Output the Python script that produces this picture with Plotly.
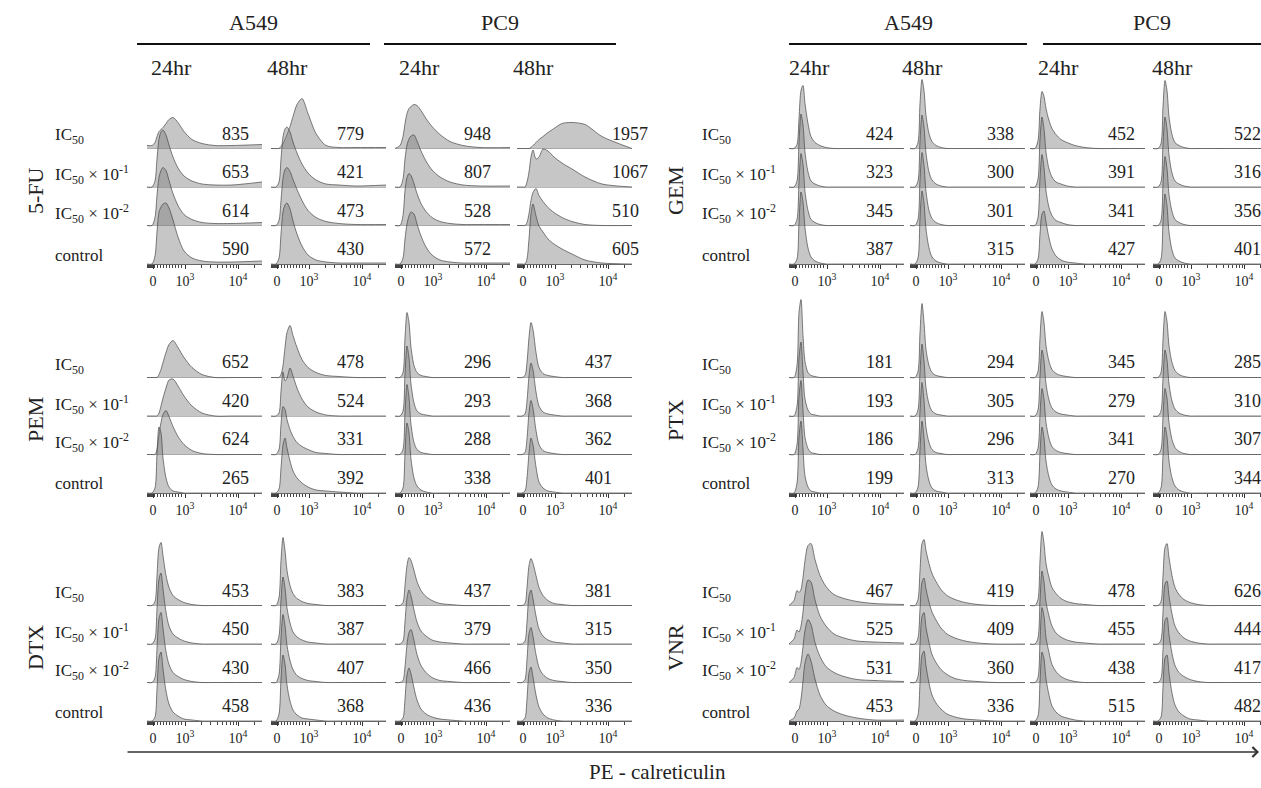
import plotly.graph_objects as go

W, H = 1261, 788

# ---------------- data ----------------
channels = [0, 5, 8, 10, 12, 14, 16, 19, 22, 26, 31, 37, 45, 55, 68, 85, 115]
tick_vals = [6, 38, 91]
tick_text = ["0", "10<sup>3</sup>", "10<sup>4</sup>"]
minor_tick_vals = [0, 1, 2, 3, 4, 5, 7, 10, 13, 16, 19, 22, 25, 28, 31, 34,
                   54, 63, 70, 75, 79, 83, 86, 89, 107]

doses = ["IC<sub>50</sub>", "IC<sub>50</sub> × 10<sup>-1</sup>",
         "IC<sub>50</sub> × 10<sup>-2</sup>", "control"]
cell_lines = ["A549", "PC9"]
times = ["24hr", "48hr"]
drugs_left = ["5-FU", "PEM", "DTX"]
drugs_right = ["GEM", "PTX", "VNR"]
x_title = "PE - calreticulin"

# MFI values: [A549 24hr, A549 48hr, PC9 24hr, PC9 48hr], rows IC50 .. control
mfi_5fu = [[835, 653, 614, 590], [779, 421, 473, 430], [948, 807, 528, 572], [1957, 1067, 510, 605]]
mfi_pem = [[652, 420, 624, 265], [478, 524, 331, 392], [296, 293, 288, 338], [437, 368, 362, 401]]
mfi_dtx = [[453, 450, 430, 458], [383, 387, 407, 368], [437, 379, 466, 436], [381, 315, 350, 336]]
mfi_gem = [[424, 323, 345, 387], [338, 300, 301, 315], [452, 391, 341, 427], [522, 316, 356, 401]]
mfi_ptx = [[181, 193, 186, 199], [294, 305, 296, 313], [345, 279, 341, 270], [285, 310, 307, 344]]
mfi_vnr = [[467, 525, 531, 453], [419, 409, 360, 336], [478, 455, 438, 515], [626, 444, 417, 482]]

# histogram counts at the channel positions
counts_5fu = [
    [[3, 3, 6, 12, 17, 19, 21, 25, 29, 31, 26, 17, 9, 5, 3, 3, 4],
     [0, 0, 6, 28, 48, 55, 57, 52, 42, 30, 19, 11, 6, 3, 2, 2, 5],
     [0, 0, 8, 30, 48, 55, 58, 55, 45, 32, 20, 11, 6, 3, 2, 2, 3],
     [0, 0, 8, 32, 52, 57, 60, 61, 56, 44, 27, 13, 6, 3, 2, 2, 3]],
    [[0, 0, 0, 2, 5, 9, 14, 22, 32, 44, 50, 35, 15, 3, 1, 1, 1],
     [0, 0, 5, 28, 50, 58, 60, 55, 45, 34, 23, 14, 7, 3, 2, 1, 2],
     [0, 0, 5, 25, 47, 56, 58, 54, 46, 36, 25, 15, 8, 4, 2, 1, 1],
     [0, 0, 6, 30, 52, 59, 61, 55, 43, 30, 18, 9, 4, 2, 1, 1, 1]],
    [[0, 3, 12, 25, 35, 40, 42, 44, 43, 38, 30, 22, 14, 7, 3, 1, 1],
     [0, 0, 8, 28, 42, 48, 51, 52, 46, 36, 26, 17, 10, 5, 2, 1, 1],
     [0, 0, 10, 35, 48, 52, 50, 42, 32, 22, 14, 8, 4, 2, 1, 1, 1],
     [0, 0, 6, 25, 40, 48, 52, 50, 40, 28, 17, 9, 4, 2, 1, 1, 1]],
    [[0, 0, 0, 0, 0, 1, 3, 6, 9, 12, 16, 20, 25, 26, 24, 12, 0],
     [0, 0, 0, 5, 15, 30, 37, 28, 30, 38, 36, 30, 24, 18, 10, 3, 0],
     [0, 0, 0, 3, 12, 25, 33, 37, 30, 24, 18, 13, 8, 4, 1, 0, 0],
     [0, 0, 0, 5, 25, 50, 60, 48, 38, 32, 25, 20, 15, 10, 4, 1, 0]],
]
counts_pem = [
    [[0, 0, 0, 0, 3, 8, 15, 25, 33, 37, 30, 20, 10, 3, 0, 0, 0],
     [0, 0, 0, 0, 3, 10, 18, 28, 36, 37, 30, 20, 10, 3, 0, 0, 0],
     [0, 0, 0, 5, 20, 32, 40, 44, 38, 28, 18, 10, 4, 1, 0, 0, 0],
     [0, 0, 5, 40, 66, 60, 35, 15, 6, 2, 1, 0, 0, 0, 0, 0, 0]],
    [[0, 0, 0, 3, 12, 30, 45, 52, 42, 30, 18, 10, 5, 2, 1, 0, 0],
     [0, 0, 3, 25, 44, 35, 38, 48, 40, 28, 17, 9, 4, 1, 0, 0, 0],
     [0, 0, 5, 30, 48, 45, 35, 25, 18, 12, 8, 5, 2, 1, 0, 0, 0],
     [0, 0, 4, 25, 48, 55, 45, 32, 22, 15, 10, 6, 3, 2, 1, 0, 0]],
    [[0, 0, 5, 40, 65, 55, 30, 12, 5, 2, 1, 0, 0, 0, 0, 0, 0],
     [0, 0, 5, 42, 70, 58, 32, 13, 5, 2, 1, 0, 0, 0, 0, 0, 0],
     [0, 0, 5, 42, 70, 57, 30, 12, 5, 2, 1, 0, 0, 0, 0, 0, 0],
     [0, 0, 5, 40, 70, 60, 34, 15, 7, 3, 1, 0, 0, 0, 0, 0, 0]],
    [[0, 0, 2, 15, 40, 55, 48, 25, 10, 4, 2, 1, 0, 0, 0, 0, 0],
     [0, 0, 2, 15, 40, 53, 46, 24, 10, 4, 2, 1, 0, 0, 0, 0, 0],
     [0, 0, 2, 16, 42, 54, 46, 24, 10, 4, 2, 1, 0, 0, 0, 0, 0],
     [0, 0, 2, 15, 40, 55, 48, 26, 11, 5, 2, 1, 0, 0, 0, 0, 0]],
]
counts_dtx = [
    [[0, 0, 4, 30, 58, 63, 50, 30, 18, 10, 6, 3, 1, 0, 0, 0, 0],
     [0, 0, 5, 35, 65, 71, 55, 32, 18, 10, 6, 3, 1, 0, 0, 0, 0],
     [0, 0, 5, 34, 64, 70, 54, 31, 18, 10, 6, 3, 1, 0, 0, 0, 0],
     [0, 0, 4, 32, 63, 69, 52, 30, 17, 9, 5, 2, 1, 0, 0, 0, 0]],
    [[0, 0, 8, 45, 68, 55, 35, 20, 12, 7, 4, 2, 1, 0, 0, 0, 0],
     [0, 0, 8, 44, 67, 56, 36, 21, 12, 7, 4, 2, 1, 0, 0, 0, 0],
     [0, 0, 8, 45, 68, 57, 37, 22, 13, 7, 4, 2, 1, 0, 0, 0, 0],
     [0, 0, 7, 42, 66, 57, 36, 20, 11, 6, 3, 2, 1, 0, 0, 0, 0]],
    [[0, 0, 3, 20, 40, 48, 45, 35, 24, 15, 9, 5, 2, 1, 0, 0, 0],
     [0, 0, 3, 22, 46, 54, 48, 34, 22, 13, 8, 4, 2, 1, 0, 0, 0],
     [0, 0, 2, 16, 38, 50, 53, 42, 28, 17, 10, 5, 2, 1, 0, 0, 0],
     [0, 0, 3, 22, 46, 53, 47, 33, 21, 12, 7, 4, 2, 1, 0, 0, 0]],
    [[0, 0, 2, 18, 40, 47, 42, 30, 18, 10, 5, 2, 1, 0, 0, 0, 0],
     [0, 0, 3, 22, 48, 54, 45, 28, 15, 8, 4, 2, 1, 0, 0, 0, 0],
     [0, 0, 3, 23, 49, 55, 46, 28, 15, 8, 4, 2, 1, 0, 0, 0, 0],
     [0, 0, 3, 22, 48, 54, 44, 26, 14, 7, 3, 1, 0, 0, 0, 0, 0]],
]
counts_gem = [
    [[0, 0, 4, 30, 58, 63, 45, 25, 12, 6, 3, 1, 0, 0, 0, 0, 0],
     [0, 0, 6, 45, 73, 62, 35, 15, 6, 3, 1, 0, 0, 0, 0, 0, 0],
     [0, 0, 6, 44, 72, 61, 34, 15, 6, 3, 1, 0, 0, 0, 0, 0, 0],
     [0, 0, 5, 42, 72, 62, 36, 16, 7, 3, 1, 0, 0, 0, 0, 0, 0]],
    [[0, 0, 6, 45, 69, 58, 33, 15, 7, 3, 1, 0, 0, 0, 0, 0, 0],
     [0, 0, 6, 46, 72, 60, 34, 15, 7, 3, 1, 0, 0, 0, 0, 0, 0],
     [0, 0, 6, 46, 73, 60, 34, 15, 7, 3, 1, 0, 0, 0, 0, 0, 0],
     [0, 0, 6, 46, 73, 61, 35, 16, 7, 3, 1, 0, 0, 0, 0, 0, 0]],
    [[0, 0, 8, 40, 57, 52, 40, 28, 20, 14, 9, 6, 3, 1, 0, 0, 0],
     [0, 0, 8, 48, 70, 58, 35, 18, 10, 5, 3, 1, 0, 0, 0, 0, 0],
     [0, 0, 8, 48, 71, 58, 35, 18, 10, 5, 3, 1, 0, 0, 0, 0, 0],
     [0, 0, 5, 30, 50, 53, 42, 26, 15, 8, 4, 2, 1, 0, 0, 0, 0]],
    [[0, 0, 5, 42, 68, 58, 32, 14, 6, 3, 1, 0, 0, 0, 0, 0, 0],
     [0, 0, 5, 43, 70, 58, 32, 14, 6, 3, 1, 0, 0, 0, 0, 0, 0],
     [0, 0, 5, 42, 69, 57, 31, 14, 6, 3, 1, 0, 0, 0, 0, 0, 0],
     [0, 0, 5, 42, 70, 58, 32, 14, 6, 3, 1, 0, 0, 0, 0, 0, 0]],
]
counts_ptx = [
    [[0, 0, 12, 65, 78, 42, 16, 5, 2, 1, 0, 0, 0, 0, 0, 0, 0],
     [0, 0, 10, 58, 74, 44, 17, 6, 2, 1, 0, 0, 0, 0, 0, 0, 0],
     [0, 0, 10, 58, 74, 44, 17, 6, 2, 1, 0, 0, 0, 0, 0, 0, 0],
     [0, 0, 10, 56, 72, 44, 17, 6, 2, 1, 0, 0, 0, 0, 0, 0, 0]],
    [[0, 0, 6, 45, 74, 55, 28, 12, 5, 2, 1, 0, 0, 0, 0, 0, 0],
     [0, 0, 6, 44, 72, 55, 28, 12, 5, 2, 1, 0, 0, 0, 0, 0, 0],
     [0, 0, 6, 44, 72, 54, 27, 12, 5, 2, 1, 0, 0, 0, 0, 0, 0],
     [0, 0, 6, 44, 72, 55, 28, 12, 5, 2, 1, 0, 0, 0, 0, 0, 0]],
    [[0, 0, 6, 40, 66, 55, 32, 16, 8, 4, 2, 1, 0, 0, 0, 0, 0],
     [0, 0, 6, 40, 66, 55, 32, 16, 8, 4, 2, 1, 0, 0, 0, 0, 0],
     [0, 0, 6, 40, 66, 55, 32, 16, 8, 4, 2, 1, 0, 0, 0, 0, 0],
     [0, 0, 6, 40, 66, 55, 32, 16, 8, 4, 2, 1, 0, 0, 0, 0, 0]],
    [[0, 0, 5, 38, 66, 56, 32, 15, 7, 3, 1, 0, 0, 0, 0, 0, 0],
     [0, 0, 5, 38, 66, 56, 32, 15, 7, 3, 1, 0, 0, 0, 0, 0, 0],
     [0, 0, 5, 38, 66, 56, 32, 15, 7, 3, 1, 0, 0, 0, 0, 0, 0],
     [0, 0, 5, 38, 66, 56, 32, 15, 7, 3, 1, 0, 0, 0, 0, 0, 0]],
]
counts_vnr = [
    [[0, 5, 15, 13, 16, 28, 45, 60, 62, 46, 30, 19, 11, 7, 4, 2, 1],
     [0, 5, 14, 12, 18, 32, 50, 64, 62, 44, 28, 18, 10, 6, 3, 2, 1],
     [0, 5, 15, 13, 20, 36, 52, 63, 58, 40, 26, 16, 10, 6, 3, 2, 1],
     [0, 3, 10, 12, 22, 40, 58, 67, 60, 42, 26, 16, 10, 6, 3, 1, 1]],
    [[0, 0, 6, 35, 62, 66, 55, 42, 32, 24, 16, 10, 6, 3, 1, 0, 0],
     [0, 0, 6, 35, 62, 66, 55, 42, 32, 24, 16, 10, 6, 3, 1, 0, 0],
     [0, 0, 6, 38, 66, 70, 55, 40, 28, 20, 13, 8, 4, 2, 1, 0, 0],
     [0, 0, 6, 38, 66, 70, 55, 38, 26, 18, 12, 7, 4, 2, 1, 0, 0]],
    [[0, 0, 6, 45, 74, 62, 42, 28, 18, 12, 7, 4, 2, 1, 0, 0, 0],
     [0, 0, 6, 44, 73, 62, 42, 28, 18, 11, 7, 4, 2, 1, 0, 0, 0],
     [0, 0, 5, 42, 75, 66, 45, 30, 18, 11, 6, 3, 1, 0, 0, 0, 0],
     [0, 0, 5, 40, 69, 62, 42, 26, 15, 9, 5, 3, 1, 0, 0, 0, 0]],
    [[0, 0, 4, 30, 58, 62, 48, 30, 18, 11, 6, 3, 1, 0, 0, 0, 0],
     [0, 0, 4, 32, 60, 63, 48, 30, 18, 11, 6, 3, 1, 0, 0, 0, 0],
     [0, 0, 4, 33, 62, 65, 48, 29, 17, 10, 6, 3, 1, 0, 0, 0, 0],
     [0, 0, 4, 34, 63, 66, 48, 28, 16, 9, 5, 2, 1, 0, 0, 0, 0]],
]

panels_left = [("5-FU", counts_5fu, mfi_5fu), ("PEM", counts_pem, mfi_pem), ("DTX", counts_dtx, mfi_dtx)]
panels_right = [("GEM", counts_gem, mfi_gem), ("PTX", counts_ptx, mfi_ptx), ("VNR", counts_vnr, mfi_vnr)]

# ---------------- layout constants (pixels) ----------------
FONT = "Liberation Serif, Times New Roman, serif"
COL_X = [[147, 271, 395, 517], [789, 910, 1030, 1153]]
NUM_X = [[88, 79, 82, 81], [90, 90, 91, 94]]
LABEL_X = [53, 700]
DRUG_X = [35, 675]
PANEL_BASE = [264, 493, 721]
ROW_STEP = 38.5
PLOT_H = 200
COL_W = 115


def fx(px):
    return px / W


def fy(py):
    return 1 - py / H


fig = go.Figure()
layout = dict(
    width=W, height=H, margin=dict(l=0, r=0, t=0, b=0),
    paper_bgcolor="white", plot_bgcolor="rgba(0,0,0,0)",
    showlegend=False, font=dict(family=FONT, color="#222", size=16),
)
annotations = []
shapes = []

n = 0
for half, panels in enumerate([panels_left, panels_right]):
    for p, (drug, counts, mfi) in enumerate(panels):
        base = PANEL_BASE[p]
        for c in range(4):
            n += 1
            x0 = COL_X[half][c]
            w = min(COL_W, W - x0)
            xa = "xaxis" if n == 1 else f"xaxis{n}"
            ya = "yaxis" if n == 1 else f"yaxis{n}"
            xr = "x" if n == 1 else f"x{n}"
            yr = "y" if n == 1 else f"y{n}"
            offsets = [(3 - r) * ROW_STEP for r in range(4)]
            layout[xa] = dict(
                domain=[fx(x0), fx(x0 + w)], range=[0, w], anchor=yr,
                tickmode="array", tickvals=tick_vals, ticktext=tick_text,
                ticks="outside", ticklen=4, tickwidth=1, tickcolor="#333",
                tickfont=dict(family=FONT, size=14, color="#222"),
                showline=True, linecolor="#666", linewidth=1,
                showgrid=False, zeroline=False, fixedrange=True,
                minor=dict(tickvals=minor_tick_vals, ticks="outside", ticklen=3,
                           tickwidth=1, tickcolor="#444", showgrid=False),
            )
            layout[ya] = dict(
                domain=[fy(base), fy(base - PLOT_H)], range=[0, PLOT_H], anchor=xr,
                tickmode="array", tickvals=offsets[:3], showticklabels=False,
                ticks="", showgrid=True, gridcolor="#b8b8b8", gridwidth=1,
                zeroline=False, showline=False, fixedrange=True,
            )
            for r in range(4):
                off = offsets[r]
                fig.add_trace(go.Scatter(
                    x=[0, COL_W], y=[off, off], xaxis=xr, yaxis=yr, mode="lines",
                    line=dict(width=0, color="rgba(0,0,0,0)"), hoverinfo="skip"))
                fig.add_trace(go.Scatter(
                    x=channels, y=[off + v for v in counts[c][r]], xaxis=xr, yaxis=yr,
                    mode="lines", line=dict(color="rgba(65,65,65,0.85)", width=0.8,
                                            shape="spline", smoothing=0.8),
                    fill="tonexty", fillcolor="rgba(120,120,120,0.42)", hoverinfo="skip"))
                if drug == "5-FU" and c == 3:
                    nx, anchor = 93, "left"
                else:
                    nx, anchor = NUM_X[half][c], "center"
                annotations.append(dict(
                    x=nx, y=off + 15, xref=xr, yref=yr, text=str(mfi[c][r]),
                    showarrow=False, xanchor=anchor, yanchor="middle",
                    font=dict(family=FONT, size=18, color="#222")))
        # row labels
        for r in range(4):
            py = base - (3 - r) * ROW_STEP - (9 if r == 3 else 12)
            annotations.append(dict(
                x=fx(LABEL_X[half]), y=fy(py), xref="paper", yref="paper",
                text=doses[r], showarrow=False, xanchor="left", yanchor="middle",
                font=dict(family=FONT, size=17, color="#222")))
        annotations.append(dict(
            x=fx(DRUG_X[half]), y=fy(base - 73), xref="paper", yref="paper",
            text=drug, textangle=-90, showarrow=False, xanchor="center", yanchor="middle",
            font=dict(family=FONT, size=22, color="#222")))

# headers
header_lines = [[(137, 370), (384, 616)], [(789, 1027), (1043, 1261)]]
time_x = [[172, 287, 419, 533], [809, 922, 1058, 1172]]
for half in range(2):
    for k, (a, b) in enumerate(header_lines[half]):
        shapes.append(dict(type="line", xref="paper", yref="paper",
                           x0=fx(a), x1=fx(b), y0=fy(44), y1=fy(44),
                           line=dict(color="#111", width=2)))
        annotations.append(dict(x=fx((a + b) / 2), y=fy(22), xref="paper", yref="paper",
                                text=cell_lines[k], showarrow=False,
                                xanchor="center", yanchor="middle",
                                font=dict(family=FONT, size=22, color="#222")))
    for c in range(4):
        annotations.append(dict(x=fx(time_x[half][c]), y=fy(67), xref="paper", yref="paper",
                                text=times[c % 2], showarrow=False,
                                xanchor="center", yanchor="middle",
                                font=dict(family=FONT, size=22, color="#222")))

# bottom axis arrow + title
AX_START, AX_END, AX_Y = 126, 1259, 752
annotations.append(dict(x=fx(AX_END), y=fy(AX_Y), ax=-(AX_END - AX_START), ay=0,
                        xref="paper", yref="paper", axref="pixel", ayref="pixel",
                        text="", showarrow=True, arrowhead=4, arrowsize=1.3,
                        arrowwidth=1.5, arrowcolor="#333"))
annotations.append(dict(x=fx(657), y=fy(772), xref="paper", yref="paper",
                        text=x_title, showarrow=False, xanchor="center", yanchor="middle",
                        font=dict(family=FONT, size=21, color="#222")))

layout["annotations"] = annotations
layout["shapes"] = shapes
fig.update_layout(**layout)
fig.write_html("out.html")
